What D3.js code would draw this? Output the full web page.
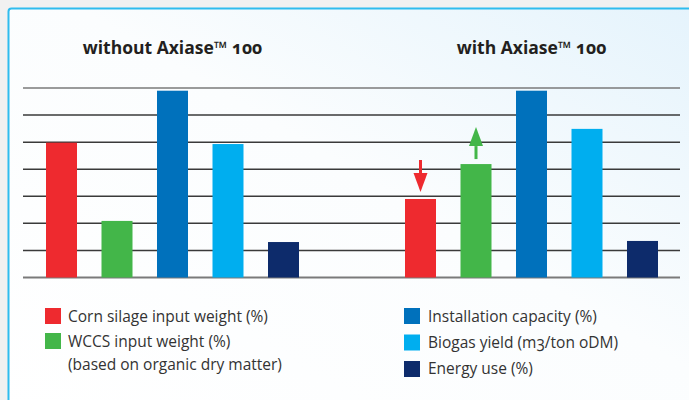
<html>
<head>
<script src="https://cdn.jsdelivr.net/npm/d3@7"></script>
<style>
  body { margin: 0; background: #f2f2f2; }
  text { font-family: "Open Sans", "DejaVu Sans", sans-serif; font-variant-numeric: oldstyle-nums; }
</style>
</head>
<body>
<div id="chart"></div>
<script>
// data (gridline = 1 unit)
var categories = ['corn', 'wccs', 'capacity', 'biogas', 'energy'];
var panelTitles = ['without Axiase\u2122 100', 'with Axiase\u2122 100'];
var withoutValues = [4.98, 2.09, 6.9, 4.93, 1.31];
var withValues = [2.9, 4.19, 6.9, 5.49, 1.35];
var colors = ['#ee2a2f', '#43b649', '#0071bc', '#00aeef', '#0d2b6b'];
var legendLeft = ['Corn silage input weight (%)', 'WCCS input weight (%)'];
var legendRight = ['Installation capacity (%)', 'Biogas yield (m3/ton oDM)', 'Energy use (%)'];

var width = 689, height = 400;
var svg = d3.select('#chart').append('svg').attr('width', width).attr('height', height);

var defs = svg.append('defs');
var grad = defs.append('linearGradient').attr('id', 'bg')
    .attr('x1', '0%').attr('y1', '100%').attr('x2', '100%').attr('y2', '0%');
grad.append('stop').attr('offset', '0%').attr('stop-color', '#ffffff');
grad.append('stop').attr('offset', '55%').attr('stop-color', '#fbfdfe');
grad.append('stop').attr('offset', '100%').attr('stop-color', '#e4f3fc');

// frame
svg.append('rect').attr('x', 0).attr('y', 0).attr('width', width).attr('height', height).attr('fill', '#f1f1f1');
svg.append('rect').attr('x', 8.5).attr('y', 8.5).attr('width', width + 20).attr('height', height + 20)
    .attr('rx', 3).attr('fill', 'url(#bg)').attr('stroke', '#2fbcee').attr('stroke-width', 2);

var y = d3.scaleLinear().domain([0, 7]).range([277.5, 88]);

// gridlines
svg.append('g').selectAll('line').data(d3.range(0, 8)).enter().append('line')
    .attr('x1', 23).attr('x2', 680)
    .attr('y1', function(d) { return y(d); }).attr('y2', function(d) { return y(d); })
    .attr('stroke', function(d) { return (d == 0 || d == 7) ? '#7a7a7a' : '#3a3a3a'; })
    .attr('stroke-width', function(d) { return d == 0 ? 2 : 1.5; });

var barWidth = 31;
var panels = [
    { title: panelTitles[0], values: withoutValues, x: d3.scalePoint().domain(categories).range([61.5, 283.5]) },
    { title: panelTitles[1], values: withValues, x: d3.scalePoint().domain(categories).range([420.5, 642.5]) }
];

panels.forEach(function(p) {
    svg.append('text')
        .attr('x', (p.x.range()[0] + p.x.range()[1]) / 2)
        .attr('y', 54)
        .attr('text-anchor', 'middle')
        .style('font-size', '17.5px').style('font-weight', 'bold').style('fill', '#231f20')
        .text(p.title);

    svg.append('g').selectAll('rect').data(p.values).enter().append('rect')
        .attr('x', function(d, i) { return p.x(categories[i]) - barWidth / 2; })
        .attr('y', function(d) { return y(d); })
        .attr('width', barWidth)
        .attr('height', function(d) { return y(0) - y(d); })
        .attr('fill', function(d, i) { return colors[i]; });
});

// arrows on the "with" panel
var p2 = panels[1];
function arrow(cx, tipY, dir, color) {
    // dir = 1 points down, -1 points up
    var headLen = 19, shaftLen = 13, half = 7;
    var baseY = tipY - dir * headLen;
    svg.append('line').attr('x1', cx).attr('x2', cx)
        .attr('y1', baseY).attr('y2', baseY - dir * shaftLen)
        .attr('stroke', color).attr('stroke-width', 3);
    svg.append('path')
        .attr('d', 'M' + (cx - half) + ',' + baseY + 'L' + (cx + half) + ',' + baseY + 'L' + cx + ',' + tipY + 'Z')
        .attr('fill', color);
}
arrow(p2.x('corn'), y(withValues[0]) - 7, 1, colors[0]);
arrow(p2.x('wccs'), y(withValues[1]) - 37, -1, colors[1]);

// legend
var leftLeg = svg.append('g');
legendLeft.forEach(function(t, i) {
    leftLeg.append('rect').attr('x', 45).attr('y', 308 + i * 25).attr('width', 16).attr('height', 16).attr('fill', colors[i]);
    leftLeg.append('text').attr('x', 68).attr('y', 322 + i * 24.5).style('font-size', '15.5px').style('fill', '#333')
        .text(t);
});
leftLeg.append('text').attr('x', 68).attr('y', 370).style('font-size', '15.5px').style('fill', '#333')
    .text('(based on organic dry matter)');

var rightLeg = svg.append('g');
legendRight.forEach(function(t, i) {
    rightLeg.append('rect').attr('x', 404).attr('y', 308 + i * 26.5).attr('width', 16).attr('height', 16).attr('fill', colors[i + 2]);
    rightLeg.append('text').attr('x', 428).attr('y', 322 + i * 26).style('font-size', '15.5px').style('fill', '#333')
        .text(t);
});
</script>
</body>
</html>
